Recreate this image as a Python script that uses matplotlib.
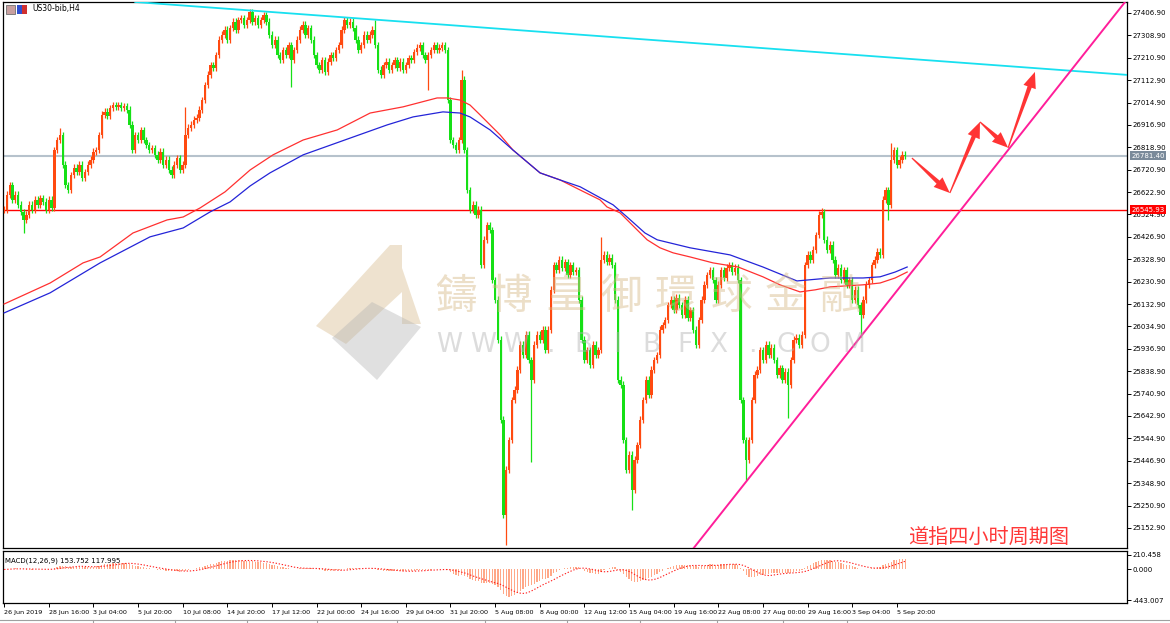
import numpy as np
import matplotlib.pyplot as plt
from matplotlib.patches import Polygon, Rectangle
from matplotlib import transforms

W, H = 1170, 623

symbol = 'US30-bib,H4'
chart_title = '道指四小时周期图'
macd_label = 'MACD(12,26,9) 153.752 117.995'

# H4 closes, one per bar
closes = [
    26545, 26611, 26654, 26589, 26611, 26567, 26536, 26501, 26523, 26567,
    26545, 26589, 26567, 26597, 26580, 26545, 26589, 26554,
    26807, 26851, 26873, 26742, 26654, 26632,
    26698, 26729, 26711, 26742, 26685, 26711, 26742,
    26764, 26799, 26807, 26873, 26961, 26974,
    26956, 26991, 27004, 26996, 27004, 26991, 27000, 26983,
    26917, 26807, 26873,
    26851, 26895, 26851, 26829, 26807, 26816, 26786, 26764, 26799,
    26742, 26764, 26720, 26698, 26742, 26772, 26720, 26742,
    26873, 26904, 26917, 26939, 26948, 26983,
    27026, 27092, 27136, 27179, 27166, 27223,
    27289, 27311, 27333, 27289,
    27341, 27368, 27333, 27376, 27385, 27355,
    27376, 27411, 27368, 27385, 27355, 27376, 27398, 27368,
    27311, 27267, 27289, 27223, 27201, 27245,
    27223, 27267, 27201, 27245, 27289,
    27333, 27355, 27311, 27341, 27289,
    27223, 27179, 27158, 27201, 27149, 27193,
    27223, 27210, 27245, 27267,
    27333, 27376, 27355, 27368, 27341,
    27289, 27245, 27267, 27311,
    27289, 27311, 27333, 27267,
    27158, 27136, 27179,
    27193, 27158, 27179, 27201, 27166, 27193, 27158, 27179, 27210, 27201,
    27236, 27254, 27267, 27223,
    27201, 27223, 27245, 27267, 27245, 27254, 27267, 27245,
    27026, 26851, 26829, 26807, 26851, 27114,
    26807, 26632, 26545, 26567, 26523, 26545,
    26304, 26414, 26479, 26457,
    26238, 26151, 25976, 25626, 25210, 25407,
    25538, 25713, 25757, 25845, 25954, 25910,
    25998, 25888, 25801, 25954,
    25998, 25976, 26020, 25932, 26020,
    26195, 26304, 26282,
    26326, 26291, 26317, 26260, 26304, 26273, 26282,
    26151, 25976, 25888,
    25932, 25866, 25954, 25910, 25932, 26326,
    26348, 26317, 26335, 26304,
    26151, 25801, 25779,
    25538, 25407, 25473, 25319,
    25451, 25516, 25626, 25713, 25801, 25735,
    25845, 25888, 25910, 26020, 26041, 26063,
    26129, 26151, 26107, 26160, 26129, 26085, 26151,
    26072, 26107, 26020, 25954,
    26063, 26151, 26217, 26260,
    26282, 26238, 26151, 26217,
    26282, 26247, 26291,
    26304, 26273, 26291, 26238,
    25713, 25538, 25451, 25538, 25713, 25823,
    25845, 25932, 25888, 25954, 25910, 25941, 25888,
    25823, 25853, 25801, 25836, 25779,
    25888, 25976, 25985, 25954, 25998, 26304,
    26348, 26326, 26370,
    26435, 26523, 26536,
    26414, 26370, 26392,
    26326, 26260, 26291, 26238, 26282,
    26217, 26238, 26151, 26195, 26129,
    26085, 26151, 26217, 26238, 26304,
    26326, 26361, 26348, 26589, 26632,
    26567, 26764, 26807, 26742, 26764, 26786, 26781,
]
spike_highs = {20: 26904, 65: 26996, 133: 27376, 164: 27158, 214: 26427,
               293: 26554, 318: 26838}
spike_lows = {7: 26444, 103: 27083, 152: 27070, 180: 25078, 189: 25442,
              225: 25232, 266: 25363, 281: 25634, 307: 25989, 317: 26501}

red_ma_bars = [0, 16.5, 28.3, 34.4, 46.2, 58.4, 64.2, 70.3, 79.2, 88.2, 96.4,
               107.2, 119.4, 131.2, 143, 155.2, 158.8, 163.4, 167, 170.6,
               174.2, 177.8, 182.4, 192.1, 199.3, 206.5, 213.6, 216.1, 220.8,
               226.2, 230.5, 235.1, 239.8, 245.9, 254.1, 263.1, 272, 278.1,
               285.3, 290.7, 296.1, 307.9, 314, 319.4, 323.7]
red_ma = [26133, 26225, 26313, 26339, 26444, 26501, 26514, 26554, 26624,
          26720, 26786, 26851, 26895, 26969, 26996, 27035, 27035, 27026,
          27004, 26961, 26917, 26873, 26807, 26707, 26676, 26632, 26589,
          26558, 26532, 26466, 26414, 26379, 26357, 26339, 26313, 26295,
          26252, 26217, 26186, 26195, 26208, 26217, 26225, 26247, 26273]
blue_ma_bars = [0, 16.5, 34.4, 52.3, 64.2, 73.8, 81, 88.2, 95.3, 107.2, 125.1,
                137.3, 146.6, 157.3, 163.4, 167, 174.2, 182.4, 192.1, 199.3,
                206.5, 218.3, 223.3, 229.7, 234.1, 245.9, 260.2, 272, 284.2,
                296.1, 307.9, 314, 319.4, 323.7]
blue_ma = [26094, 26182, 26313, 26427, 26466, 26536, 26580, 26650, 26707,
           26786, 26864, 26917, 26952, 26974, 26969, 26952, 26895, 26807,
           26707, 26676, 26646, 26567, 26514, 26444, 26414, 26379, 26348,
           26295, 26234, 26247, 26247, 26252, 26273, 26295]

time_labels = ['26 Jun 2019', '28 Jun 16:00', '3 Jul 04:00', '5 Jul 20:00',
               '10 Jul 08:00', '14 Jul 20:00', '17 Jul 12:00', '22 Jul 00:00',
               '24 Jul 16:00', '29 Jul 04:00', '31 Jul 20:00', '5 Aug 08:00',
               '8 Aug 00:00', '12 Aug 12:00', '15 Aug 04:00', '19 Aug 16:00',
               '22 Aug 08:00', '27 Aug 00:00', '29 Aug 16:00', '3 Sep 04:00',
               '5 Sep 20:00']
bars_per_label = 16

bid_price = 26781.40
level_price = 26545.93
resist_bars, resist_prices = [47, 402.5], [27455, 27136]
support_bars, support_prices = [247, 401.8], [25062, 27455]
path_bars = [325.4, 339, 349.8, 359.9, 369.5]
path_prices = [26772, 26619, 26930, 26817, 27149]

macd_ticks = [210.458, 0.0, -443.007]

watermark_cn = '鑄博皇御環球金融'
watermark_web = 'WWW.BIBFX.COM'

UP, DOWN = '#ff4a10', '#16e016'

plt.rcParams['font.family'] = ['DejaVu Sans', 'Noto Sans CJK SC']
fig = plt.figure(figsize=(W / 100, H / 100), dpi=100)


def px_axes(x0, y0, x1, y1):
    return fig.add_axes([x0 / W, 1 - y1 / H, (x1 - x0) / W, (y1 - y0) / H])


main = px_axes(3, 2, 1127, 548)
macd = px_axes(3, 551, 1127, 603)
for a in (main, macd):
    a.set_xlim(-0.4, 402.5)
    for s in a.spines.values():
        s.set_linewidth(0.9)
main.set_ylim(25065, 27455)
macd.set_ylim(-486.5, 268.5)

# candles
c = np.array(closes, dtype=float)
o = np.r_[c[0], c[:-1]]
x = np.arange(len(c))
hi = np.maximum(o, c) + 15
lo = np.minimum(o, c) - 15
for k, v in spike_highs.items():
    hi[k] = v
for k, v in spike_lows.items():
    lo[k] = v
cols = np.where(c >= o, UP, DOWN)
main.vlines(x, lo, hi, colors=cols, lw=0.9, zorder=3)
main.bar(x, c - o, bottom=o, width=0.85, color=cols, lw=0, zorder=3)

main.plot(red_ma_bars, red_ma, color='#ff3030', lw=0.9, zorder=4)
main.plot(blue_ma_bars, blue_ma, color='#2424d8', lw=0.9, zorder=4)

main.axhline(bid_price, color='#b6c2cc', lw=1.5, zorder=2)
main.axhline(level_price, color='#ff0000', lw=1.0, zorder=2)
main.plot(resist_bars, resist_prices, color='#18e0f0', lw=1.3, zorder=5)
main.plot(support_bars, support_prices, color='#ff1e9a', lw=1.4, zorder=5)

# right price scale
main.yaxis.tick_right()
yt = np.arange(25152.90, 27407, 98.0)
main.set_yticks(yt)
main.set_yticklabels(['%.2f' % v for v in yt])
main.tick_params(axis='y', labelsize=5, length=3, pad=1, width=0.7)
main.set_xticks([])

yx = transforms.blended_transform_factory(main.transAxes, main.transData)
main.text(1.004, bid_price, '%.2f' % bid_price, transform=yx, fontsize=5,
          color='white', ha='left', va='center', zorder=10, clip_on=False,
          bbox=dict(boxstyle='square,pad=0.2', fc='#7a8a9a', ec='none'))
main.text(1.004, level_price, '%.2f' % level_price, transform=yx, fontsize=5,
          color='white', ha='left', va='center', zorder=10, clip_on=False,
          bbox=dict(boxstyle='square,pad=0.2', fc='#ff0000', ec='none'))


def tapered_arrow(ax, p0, p1, color):
    t = ax.transData
    a, b = t.transform(p0), t.transform(p1)
    d = b - a
    u = d / np.hypot(*d)
    n = np.array([-u[1], u[0]])
    neck = b - u * 16
    pts = [a + n * 0.6, neck + n * 2.2, neck + n * 6.5, b,
           neck - n * 6.5, neck - n * 2.2, a - n * 0.6]
    ax.add_patch(Polygon(t.inverted().transform(pts), closed=True,
                         fc=color, ec='none', zorder=7, clip_on=False))


for i in range(len(path_bars) - 1):
    tapered_arrow(main, (path_bars[i], path_prices[i]),
                  (path_bars[i + 1], path_prices[i + 1]), '#ff3434')


# watermark (figure pixel positions)
def fx(px, py):
    return ((px - 3) / 1124, 1 - (py - 2) / 546)


tan = (0.84, 0.72, 0.53)
grey = (0.70, 0.70, 0.70)
for poly, col in [
        ([(390, 245), (402, 245), (402, 292), (346, 344), (316, 326)], tan),
        ([(402, 268), (421, 324), (402, 324)], tan),
        ([(332, 338), (372, 302), (421, 327), (377, 380)], grey)]:
    main.add_patch(Polygon([fx(*p) for p in poly], closed=True,
                           transform=main.transAxes, fc=col, ec='none',
                           alpha=0.4, zorder=6))
for i, ch in enumerate(watermark_cn):
    main.text(*fx(456 + i * 55, 297), ch, transform=main.transAxes,
              fontsize=30, family='Noto Sans CJK TC', color=tan, alpha=0.45,
              ha='center', va='center', zorder=6)
for i, ch in enumerate(watermark_web):
    main.text(*fx(449 + i * 33.7, 345), ch, transform=main.transAxes,
              fontsize=19, color=grey, alpha=0.45, ha='center', va='center',
              zorder=6)

main.text(*fx(908, 538), chart_title, transform=main.transAxes,
          fontsize=14.5, family=['Noto Sans CJK SC'], color='#ff3838',
          ha='left', va='center', zorder=8)

# symbol header with two small icons
fig.add_artist(Rectangle((6 / W, 1 - 14 / H), 9 / W, 9 / H,
                         fc='#c8a0a0', ec='#707070', lw=0.6))
fig.add_artist(Rectangle((17 / W, 1 - 14 / H), 5 / W, 9 / H,
                         fc='#3050d0', ec='none'))
fig.add_artist(Rectangle((22 / W, 1 - 14 / H), 5 / W, 9 / H,
                         fc='#d03030', ec='none'))
fig.text(32 / W, 1 - 9 / H, symbol, fontsize=5.5, va='center', ha='left')

# MACD panel
e12 = np.zeros_like(c)
e26 = np.zeros_like(c)
e12[0] = e26[0] = c[0]
for i in range(1, len(c)):
    e12[i] = e12[i - 1] + 2 / 13 * (c[i] - e12[i - 1])
    e26[i] = e26[i - 1] + 2 / 27 * (c[i] - e26[i - 1])
m = e12 - e26
sig = np.array([m[max(0, i - 8):i + 1].mean() for i in range(len(m))])
macd.bar(x, m, width=0.45, color='#ffa888', lw=0, zorder=2)
macd.plot(x, sig, color='#ff2020', lw=0.8, ls=(0, (1.2, 1.6)), zorder=3)
macd.text(0.002, 0.88, macd_label, transform=macd.transAxes, fontsize=5,
          va='top', ha='left')
macd.yaxis.tick_right()
macd.set_yticks(macd_ticks)
macd.set_yticklabels(['%.3f' % v for v in macd_ticks])
macd.tick_params(axis='y', labelsize=5, length=3, pad=1, width=0.7)

xt = np.arange(len(time_labels)) * bars_per_label
macd.set_xticks(xt)
macd.set_xticklabels(time_labels)
for lab in macd.get_xticklabels():
    lab.set_horizontalalignment('left')
macd.tick_params(axis='x', labelsize=4.6, length=3, pad=2, width=0.7)

# bottom tab strip
fig.add_artist(plt.Line2D([0, 1], [1 - 619.5 / H] * 2, color='#a0a0a0',
                          lw=0.8))
for tx in [93, 175, 247, 317, 397, 485, 567, 640, 717, 783, 847]:
    fig.add_artist(plt.Line2D([tx / W] * 2, [0, 1 - 619.5 / H],
                              color='#a0a0a0', lw=0.8))

fig.savefig('out.png', dpi=100)
